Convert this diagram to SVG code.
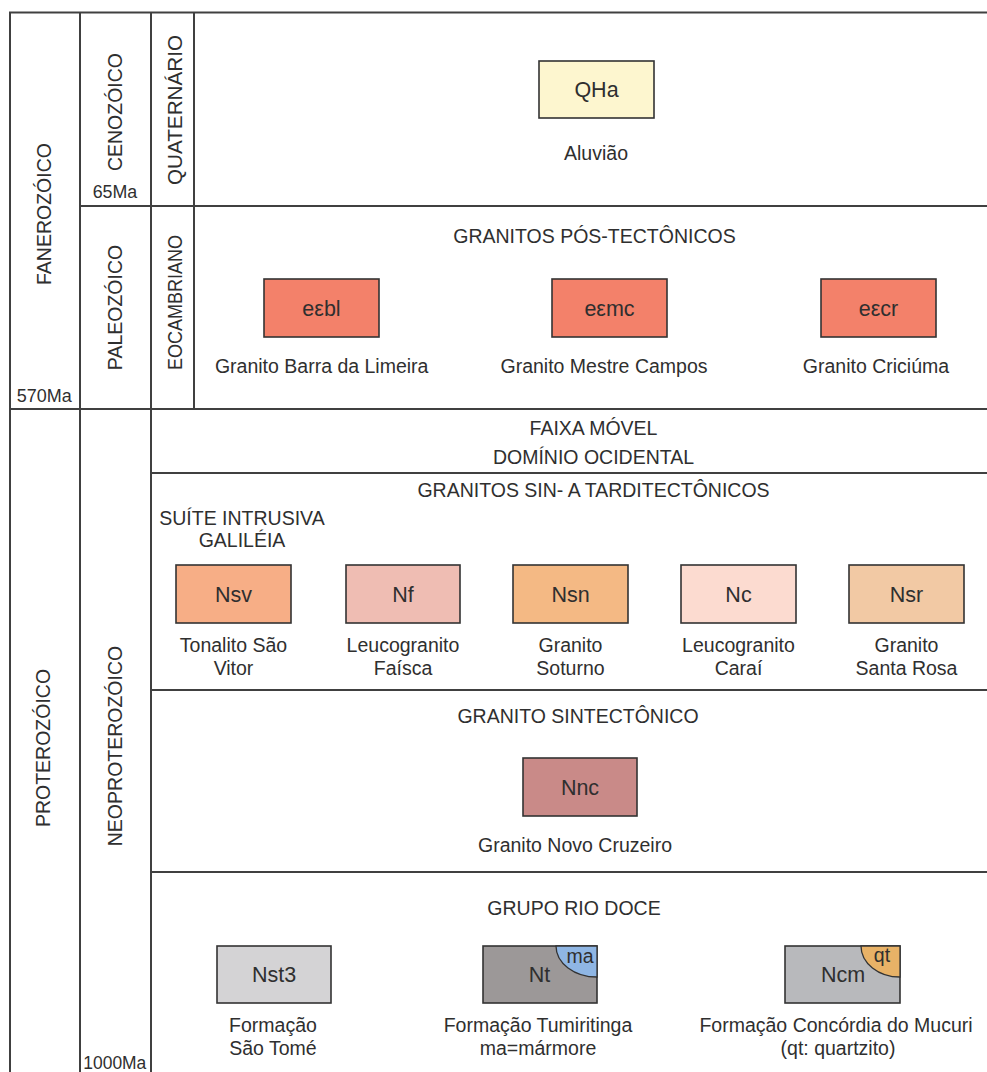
<svg xmlns="http://www.w3.org/2000/svg" width="987" height="1072" viewBox="0 0 987 1072">
<style>
  text { font-family: "Liberation Sans", Arial, Helvetica, sans-serif; fill: #2f2f2f; }
  .t { font-size: 19.5px; text-anchor: middle; }
  .lbl { font-size: 21.5px; text-anchor: middle; }
  .ma { font-size: 17.5px; }
  .small { font-size: 19px; text-anchor: middle; }
  .box { stroke: #333; stroke-width: 1.6; }
  .grid line { stroke: #404040; stroke-width: 2; }
  .q { stroke: #333; stroke-width: 1.3; }
</style>
<rect x="0" y="0" width="987" height="1072" fill="#ffffff"/>

<g id="connectors" class="grid">
  <line x1="9" y1="12.5" x2="987" y2="12.5"/>
  <line x1="10" y1="12" x2="10" y2="1072"/>
  <line x1="80" y1="12" x2="80" y2="1072"/>
  <line x1="151" y1="12" x2="151" y2="1072"/>
  <line x1="194" y1="12" x2="194" y2="409"/>
  <line x1="80" y1="206" x2="987" y2="206"/>
  <line x1="10" y1="409" x2="987" y2="409"/>
  <line x1="151" y1="473" x2="987" y2="473"/>
  <line x1="151" y1="690" x2="987" y2="690"/>
  <line x1="151" y1="872" x2="987" y2="872"/>
</g>

<g id="timescale">
  <text class="t" transform="translate(50.5,214) rotate(-90)">FANEROZÓICO</text>
  <text class="t" transform="translate(121.5,112) rotate(-90)">CENOZÓICO</text>
  <text class="t" transform="translate(181.5,110) rotate(-90)" textLength="150" lengthAdjust="spacingAndGlyphs">QUATERNÁRIO</text>
  <text class="t" transform="translate(121.5,307.5) rotate(-90)">PALEOZÓICO</text>
  <text class="t" transform="translate(181.5,302.5) rotate(-90)" textLength="135" lengthAdjust="spacingAndGlyphs">EOCAMBRIANO</text>
  <text class="t" transform="translate(50,748) rotate(-90)">PROTEROZÓICO</text>
  <text class="t" transform="translate(122,746) rotate(-90)">NEOPROTEROZÓICO</text>
  <text class="ma" x="92.7" y="198" textLength="44.6" lengthAdjust="spacingAndGlyphs">65Ma</text>
  <text class="ma" x="16.7" y="401.7" textLength="55" lengthAdjust="spacingAndGlyphs">570Ma</text>
  <text class="ma" x="83.3" y="1069" textLength="63" lengthAdjust="spacingAndGlyphs">1000Ma</text>
</g>

<g id="headers">
  <text class="t" x="594.5" y="243">GRANITOS PÓS-TECTÔNICOS</text>
  <text class="t" x="593.5" y="435">FAIXA MÓVEL</text>
  <text class="t" x="593.5" y="463.5">DOMÍNIO OCIDENTAL</text>
  <text class="t" x="593.5" y="496.5">GRANITOS SIN- A TARDITECTÔNICOS</text>
  <text class="t" x="242" y="525">SUÍTE INTRUSIVA</text>
  <text class="t" x="242" y="547">GALILÉIA</text>
  <text class="t" x="578" y="722.5">GRANITO SINTECTÔNICO</text>
  <text class="t" x="574" y="915">GRUPO RIO DOCE</text>
</g>

<g id="node-QHa">
  <rect class="box" x="539" y="61" width="115" height="57" fill="#fdf6cf"/>
  <text class="lbl" x="596.5" y="97">QHa</text>
  <text class="t" x="596" y="160">Aluvião</text>
</g>

<g id="node-ebl">
  <rect class="box" x="264" y="279" width="115" height="58" fill="#f3816a"/>
  <text class="lbl" x="321.5" y="316">eεbl</text>
  <text class="t" x="321.7" y="373">Granito Barra da Limeira</text>
</g>
<g id="node-emc">
  <rect class="box" x="552" y="279" width="115" height="58" fill="#f3816a"/>
  <text class="lbl" x="609.5" y="316">eεmc</text>
  <text class="t" x="604" y="373">Granito Mestre Campos</text>
</g>
<g id="node-ecr">
  <rect class="box" x="821" y="279" width="115" height="58" fill="#f3816a"/>
  <text class="lbl" x="878.5" y="316">eεcr</text>
  <text class="t" x="876" y="373">Granito Criciúma</text>
</g>

<g id="node-Nsv">
  <rect class="box" x="176" y="565" width="115" height="58" fill="#f7ae86"/>
  <text class="lbl" x="233.5" y="601.5">Nsv</text>
  <text class="t" x="233.5" y="651.5">Tonalito São</text>
  <text class="t" x="233.5" y="675">Vitor</text>
</g>
<g id="node-Nf">
  <rect class="box" x="346" y="565" width="114" height="58" fill="#efbdb3"/>
  <text class="lbl" x="403" y="601.5">Nf</text>
  <text class="t" x="403" y="651.5">Leucogranito</text>
  <text class="t" x="403" y="675">Faísca</text>
</g>
<g id="node-Nsn">
  <rect class="box" x="513" y="565" width="115" height="58" fill="#f4b984"/>
  <text class="lbl" x="570.5" y="601.5">Nsn</text>
  <text class="t" x="570.5" y="651.5">Granito</text>
  <text class="t" x="570.5" y="675">Soturno</text>
</g>
<g id="node-Nc">
  <rect class="box" x="681" y="565" width="115" height="58" fill="#fcdbd0"/>
  <text class="lbl" x="738.5" y="601.5">Nc</text>
  <text class="t" x="738.5" y="651.5">Leucogranito</text>
  <text class="t" x="738.5" y="675">Caraí</text>
</g>
<g id="node-Nsr">
  <rect class="box" x="849" y="565" width="115" height="58" fill="#f2c9a4"/>
  <text class="lbl" x="906.5" y="601.5">Nsr</text>
  <text class="t" x="906.5" y="651.5">Granito</text>
  <text class="t" x="906.5" y="675">Santa Rosa</text>
</g>

<g id="node-Nnc">
  <rect class="box" x="523" y="758" width="114" height="58" fill="#c98a88"/>
  <text class="lbl" x="580" y="795">Nnc</text>
  <text class="t" x="575" y="852">Granito Novo Cruzeiro</text>
</g>

<g id="node-Nst3">
  <rect class="box" x="217" y="946" width="114" height="57" fill="#d4d3d5"/>
  <text class="lbl" x="274" y="982">Nst3</text>
  <text class="t" x="273" y="1032">Formação</text>
  <text class="t" x="273" y="1054.5">São Tomé</text>
</g>
<g id="node-Nt">
  <rect class="box" x="483" y="946" width="114" height="57" fill="#9c9898"/>
  <path class="q" d="M556,946 A41,31 0 0 0 597,977 L597,946 Z" fill="#8fb6e4"/>
  <text class="lbl" x="539.5" y="982">Nt</text>
  <text class="t" x="580" y="963">ma</text>
  <text class="t" x="538" y="1032">Formação Tumiritinga</text>
  <text class="t" x="538" y="1054.5">ma=mármore</text>
</g>
<g id="node-Ncm">
  <rect class="box" x="785" y="946" width="115" height="57" fill="#b8b9bc"/>
  <path class="q" d="M861,946 A39,31 0 0 0 900,977 L900,946 Z" fill="#e8b267"/>
  <text class="lbl" x="843" y="982">Ncm</text>
  <text class="t" x="882" y="962">qt</text>
  <text class="t" x="836" y="1032">Formação Concórdia do Mucuri</text>
  <text class="t" x="838" y="1054.5">(qt: quartzito)</text>
</g>
</svg>
